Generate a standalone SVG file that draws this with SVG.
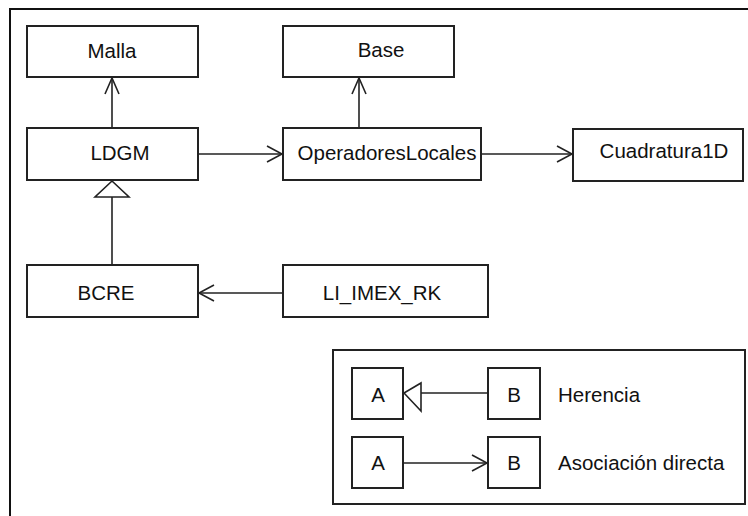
<svg xmlns="http://www.w3.org/2000/svg" width="748" height="516" viewBox="0 0 748 516">
<style>
.box{fill:#fff;stroke:#222;stroke-width:2}
.t{font-family:"Liberation Sans",Arial,sans-serif;font-size:20.5px;fill:#111;text-anchor:middle}
.tl{font-family:"Liberation Sans",Arial,sans-serif;font-size:20.5px;fill:#111;text-anchor:start}
.ln{fill:none;stroke:#222;stroke-width:1.6}
.tri{fill:#fff;stroke:#222;stroke-width:1.6}
</style>
<rect width="748" height="516" fill="#fff"/>
<path d="M10,516 V9 H748" fill="none" stroke="#111" stroke-width="2"/>
<g id="connectors">
<path class="ln" d="M112,128 V78"/>
<path class="ln" d="M105,94 L112,78 L119,94"/>
<path class="ln" d="M198,154 H282"/>
<path class="ln" d="M267,146 L282,154 L267,162"/>
<path class="ln" d="M359,128 V78"/>
<path class="ln" d="M352,94 L359,78 L366,94"/>
<path class="ln" d="M481,154 H572"/>
<path class="ln" d="M557,146 L572,154 L557,162"/>
<path class="ln" d="M112,265 V197"/>
<path class="tri" d="M112,181 L129,197 L95,197 Z"/>
<path class="ln" d="M283,293 H199"/>
<path class="ln" d="M214,285 L199,293 L214,301"/>
</g>
<g id="Malla"><rect class="box" x="27" y="26" width="171" height="51"/><text class="t" x="112" y="58">Malla</text></g>
<g id="Base"><rect class="box" x="283" y="26" width="171" height="51"/><text class="t" x="381" y="57">Base</text></g>
<g id="LDGM"><rect class="box" x="27" y="128" width="171" height="52"/><text class="t" x="120" y="160">LDGM</text></g>
<g id="OperadoresLocales"><rect class="box" x="283" y="128" width="198" height="52"/><text class="t" x="387" y="160">OperadoresLocales</text></g>
<g id="Cuadratura1D"><rect class="box" x="573" y="129" width="170" height="52"/><text class="t" x="664" y="158">Cuadratura1D</text></g>
<g id="BCRE"><rect class="box" x="27" y="265" width="171" height="52"/><text class="t" x="106" y="300">BCRE</text></g>
<g id="LI_IMEX_RK"><rect class="box" x="283" y="265" width="205" height="52"/><text class="t" x="382" y="300">LI_IMEX_RK</text></g>
<g id="legend">
<rect class="box" x="333" y="350" width="412" height="154"/>
<rect class="box" x="352" y="368" width="51" height="51"/><text class="t" x="378" y="402">A</text>
<rect class="box" x="488" y="368" width="52" height="51"/><text class="t" x="514" y="402">B</text>
<path class="ln" d="M421,393 H488"/>
<path class="tri" d="M404,393 L421,383 L421,411 Z"/>
<text class="tl" x="558" y="402">Herencia</text>
<rect class="box" x="352" y="437" width="51" height="51"/><text class="t" x="378" y="470">A</text>
<rect class="box" x="488" y="437" width="52" height="51"/><text class="t" x="514" y="470">B</text>
<path class="ln" d="M403,463 H487"/>
<path class="ln" d="M472,455 L487,463 L472,471"/>
<text class="tl" x="558" y="470">Asociación directa</text>
</g>
</svg>
